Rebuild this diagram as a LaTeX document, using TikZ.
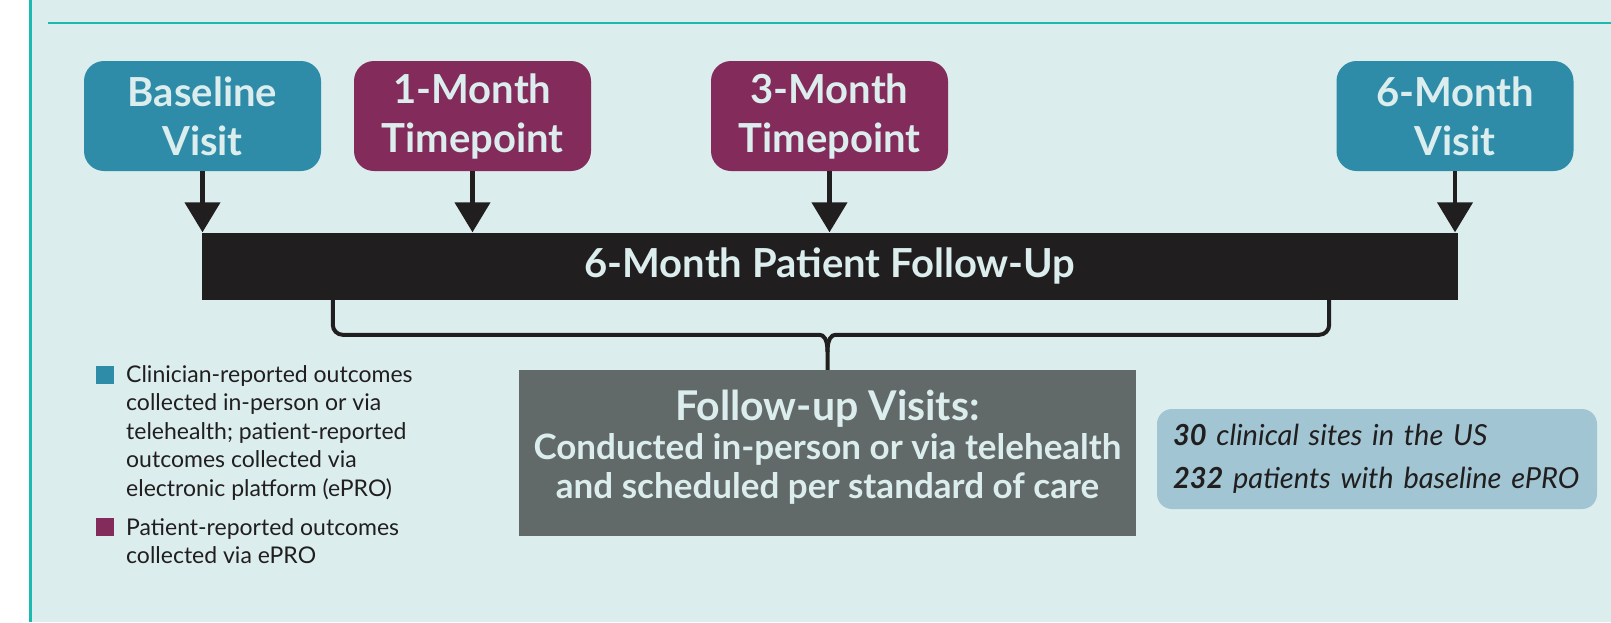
\documentclass[tikz,border=0pt]{standalone}
\usepackage{fontspec}
\setmainfont{Lato}
\usetikzlibrary{arrows.meta,calc}

\definecolor{paper}{HTML}{DCEDED}
\definecolor{rule}{HTML}{1CB9B1}
\definecolor{clin}{HTML}{2E8CA9}
\definecolor{pat}{HTML}{832B5B}
\definecolor{ink}{HTML}{201E1F}
\definecolor{slate}{HTML}{626A69}
\definecolor{sky}{HTML}{A2C5D3}

\tikzset{
  timebox/.style={rounded corners=20pt, minimum width=237pt, minimum height=110pt,
    inner sep=0pt, align=center, text=paper, font=\fontsize{40}{49}\selectfont\bfseries},
  visitbox/.style={timebox, fill=clin},
  eprobox/.style={timebox, fill=pat},
  drop/.style={-{Triangle[width=35pt,length=30pt]}, line width=4.5pt, draw=ink},
  brace/.style={line width=4pt, draw=ink},
  legsq/.style={minimum size=18pt, inner sep=0pt},
  legtext/.style={align=left, anchor=north west, inner sep=0pt, text=ink,
    font=\fontsize{23}{28.5}\selectfont},
}

\begin{document}
\begin{tikzpicture}[x=1pt, y=-1pt]
    \useasboundingbox (0,0) rectangle (1611,622);
    % panel background with teal rules
    \fill[white] (0,0) rectangle (1611,622);
    \fill[paper] (30,0) rectangle (1611,622);
    \draw[rule, line width=3pt] (30,0) -- (30,622);
    \draw[rule, line width=2.5pt] (48,23) -- (1611,23);

    % visit and timepoint boxes
    \node[visitbox] (base) at (202.5,116) {Baseline\\Visit};
    \node[eprobox] (mon1) at (472.5,116) {1-Month\\Timepoint};
    \node[eprobox] (mon3) at (829.5,116) {3-Month\\Timepoint};
    \node[visitbox] (mon6) at (1455,116) {6-Month\\Visit};

    % follow-up bar
    \node[fill=ink, minimum width=1256pt, minimum height=67pt, inner sep=0pt, text=paper,
      font=\fontsize{40}{49}\selectfont\bfseries] (bar) at (830,266) {6-Month Patient Follow-Up};

    % arrows down onto the bar
    \foreach \b in {base,mon1,mon3,mon6}
        \draw[drop] (\b.south) -- (\b.south |- bar.north);

    % follow-up visits box
    \node[fill=slate, minimum width=617pt, minimum height=166pt, inner sep=0pt, align=center,
      text depth=18pt, text=paper, font=\fontsize{35}{41}\selectfont\bfseries] (visits) at (827.5,453)
      {{\fontsize{41}{41}\selectfont Follow-up Visits:}\\[-2pt]Conducted in-person or via telehealth\\[-2pt]and scheduled per standard of care};

    % brace from the bar to the visits box
    \coordinate (bl) at ($(bar.south west)+(131,0)$);
    \coordinate (br) at ($(bar.south east)+(-129,0)$);
    \coordinate (bh) at ($(visits.north)+(0,-35)$);
    \coordinate (cusp) at ($(visits.north)+(0,-18)$);
    \draw[brace] (bl) [rounded corners=10pt] |- ($(bh)+(-18,0)$) [sharp corners]
        .. controls ($(bh)+(-4,0)$) and ($(bh)+(0,4)$) .. (cusp) -- (visits.north);
    \draw[brace] (br) [rounded corners=10pt] |- ($(bh)+(18,0)$) [sharp corners]
        .. controls ($(bh)+(4,0)$) and ($(bh)+(0,4)$) .. (cusp);

    % site and patient counts
    \node[fill=sky, rounded corners=15pt, minimum height=100pt, text width=408pt, inner xsep=16pt,
      align=left, text=ink, font=\fontsize{29}{43}\selectfont\itshape] (stats) at (1377,459)
      {{\bfseries 30} clinical sites in the US\\{\bfseries 232} patients with baseline ePRO};

    % legend
    \node[legsq, fill=clin] (sq1) at (105,375) {};
    \node[legtext] (leg1) at (126,365) {Clinician-reported outcomes\\collected in-person or via\\telehealth; patient-reported\\outcomes collected via\\electronic platform (ePRO)};
    \node[legsq, fill=pat] (sq2) at (105,527) {};
    \node[legtext] (leg2) at (126,518) {Patient-reported outcomes\\collected via ePRO};
\end{tikzpicture}
\end{document}
